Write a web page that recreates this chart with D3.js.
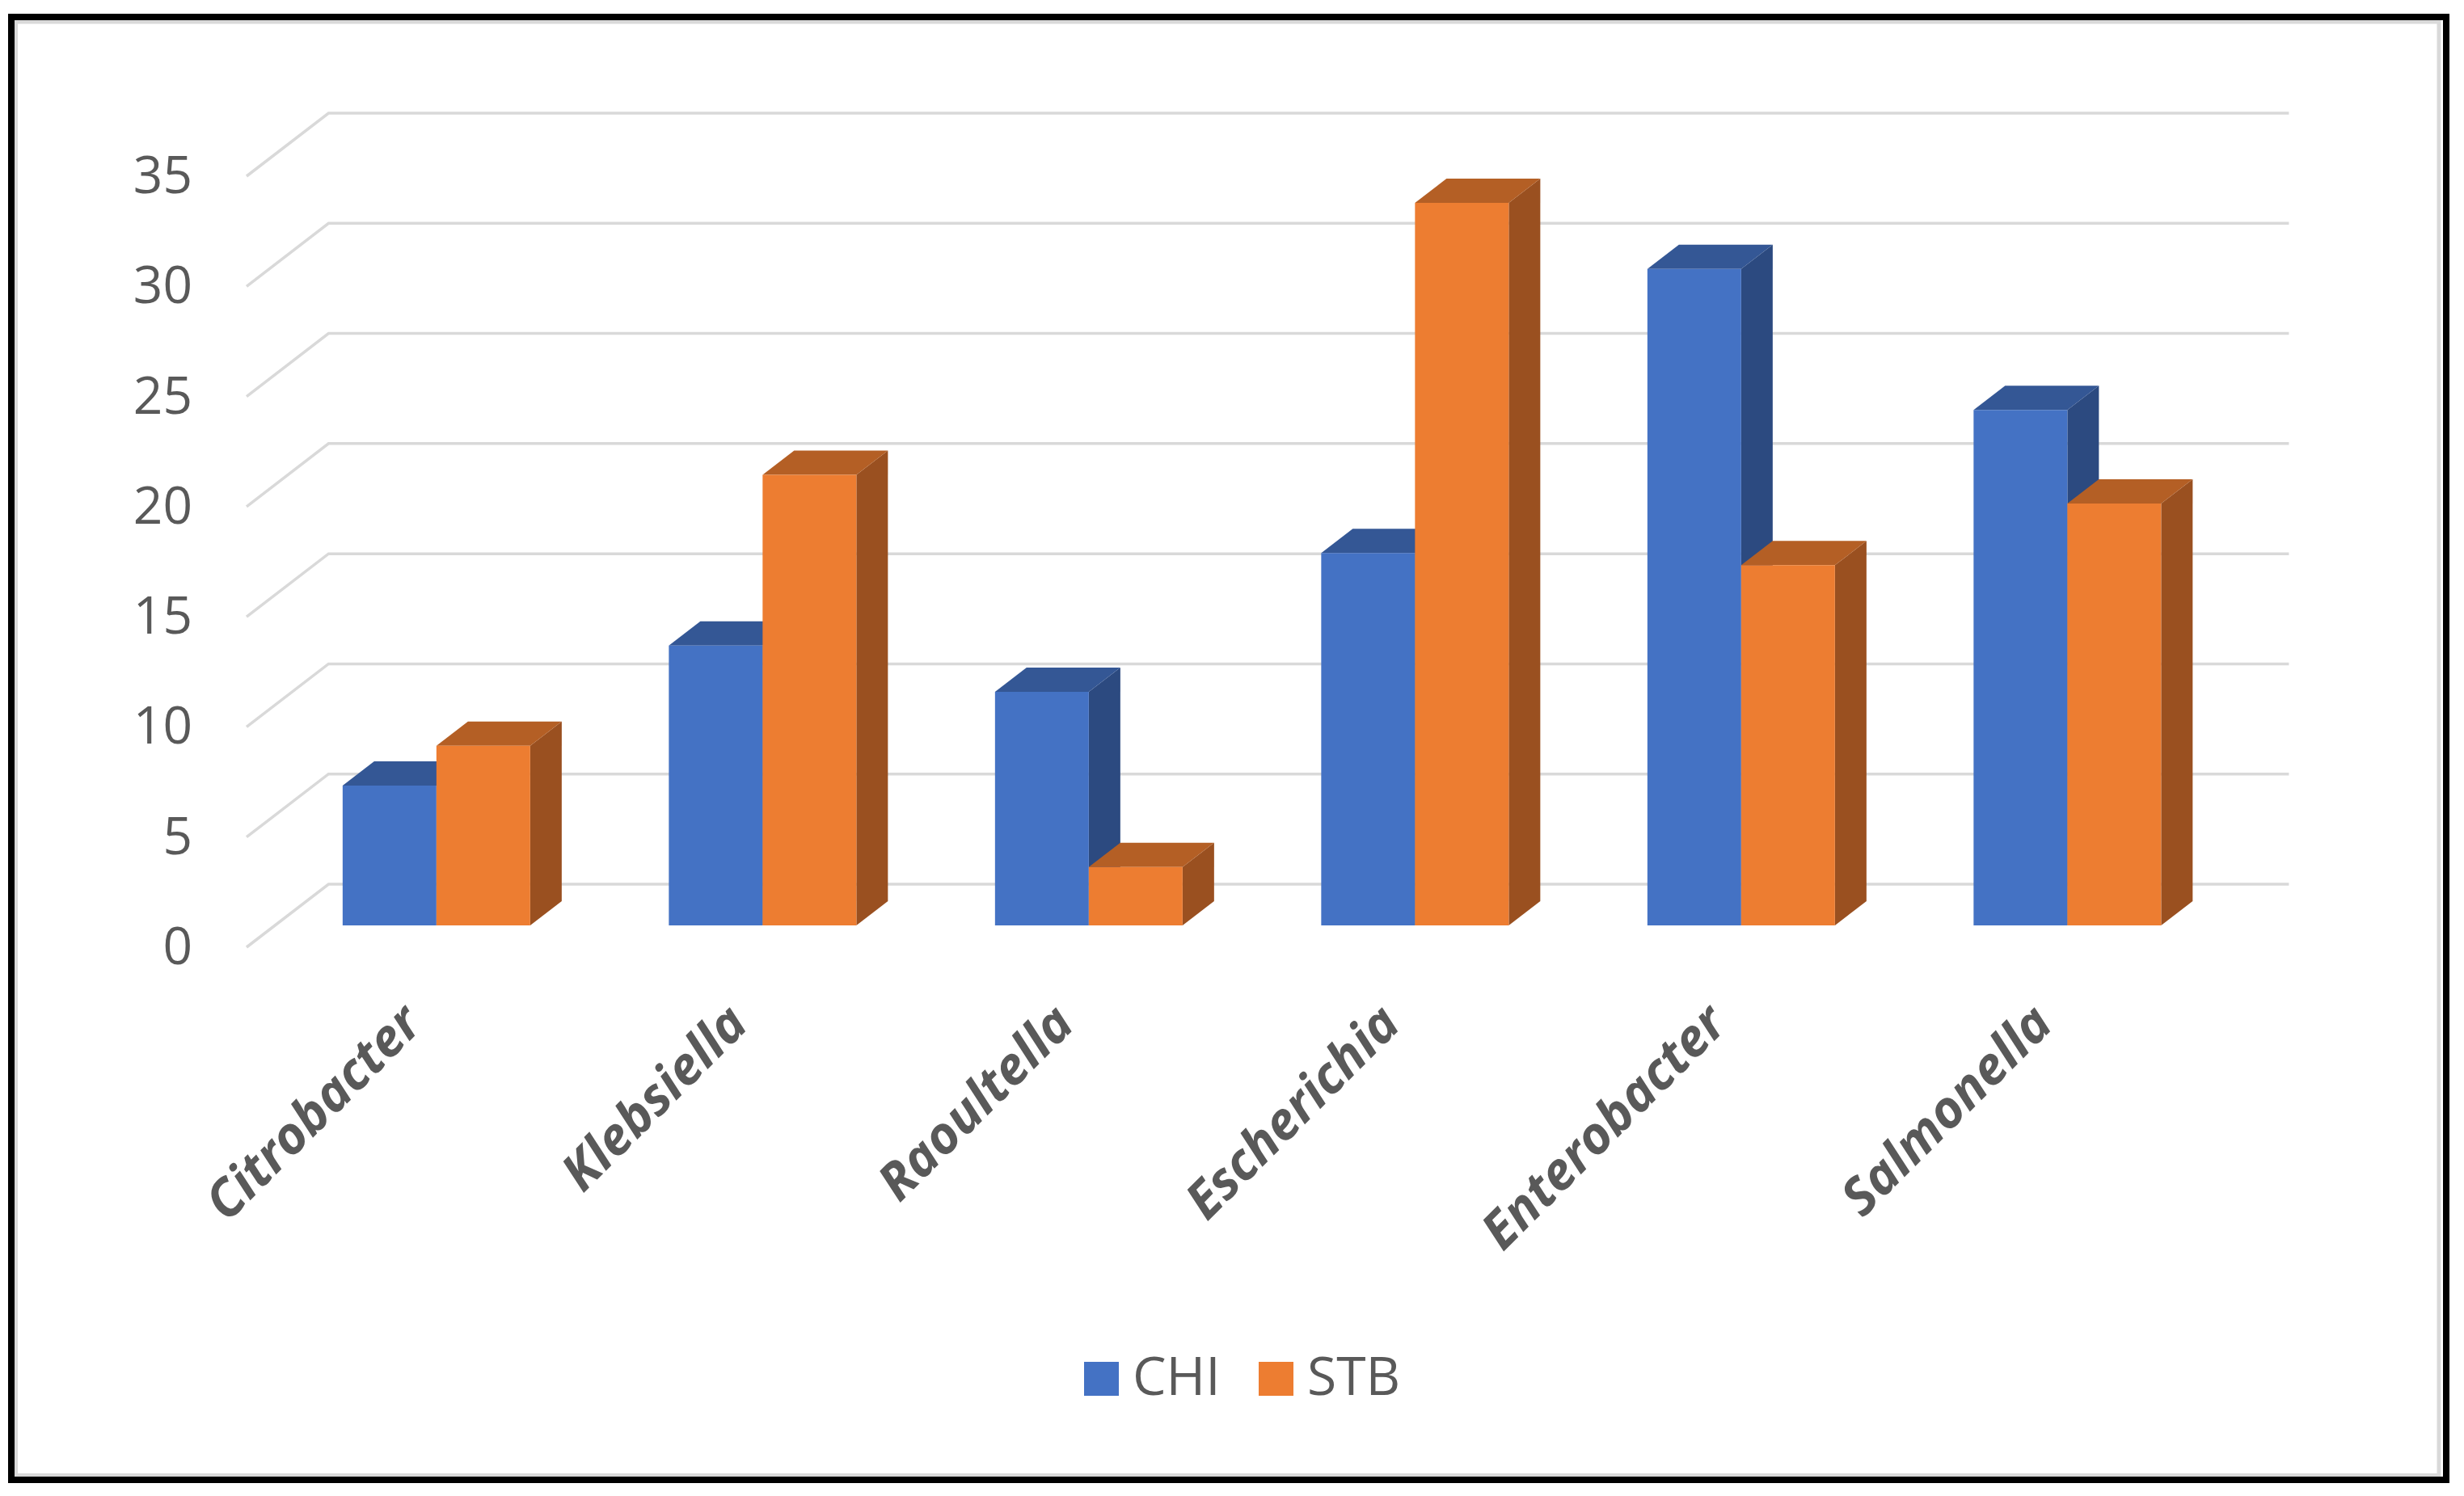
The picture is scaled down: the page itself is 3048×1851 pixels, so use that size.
<!DOCTYPE html>
<html>
<head>
<meta charset="utf-8">
<script src="https://cdn.jsdelivr.net/npm/d3@7"></script>
<style>
  html, body { margin: 0; padding: 0; background: #ffffff; }
  svg { display: block; }
</style>
</head>
<body>
<svg id="chart" width="3048" height="1851"></svg>
<script>
// ---- data ----
const categories = ["Citrobacter", "Klebsiella", "Raoultella", "Escherichia", "Enterobacter", "Salmonella"];
const seriesNames = ["CHI", "STB"];
const chiValues = [6.35, 12.7, 10.6, 16.9, 29.8, 23.4];
const stbValues = [8.15, 20.45, 2.65, 32.8, 16.35, 19.15];
const yTicks = [0, 5, 10, 15, 20, 25, 30, 35];
const seriesColors = ["#4472C4", "#ED7D31"];
const topColors = ["#345795", "#b45f25"];
const sideColors = ["#2c4a80", "#9a5020"];

// ---- geometry ----
const svg = d3.select("#chart");
const W = 3048, H = 1851;
svg.append("rect").attr("width", W).attr("height", H).attr("fill", "#ffffff");

// frame
svg.append("rect").attr("x", 19.5).attr("y", 27).attr("width", 2997.5).attr("height", 1798.5)
  .attr("fill", "none").attr("stroke", "#d9d9d9").attr("stroke-width", 5);
svg.append("rect").attr("x", 14).attr("y", 21).attr("width", 3012).attr("height", 1810)
  .attr("fill", "none").attr("stroke", "#000000").attr("stroke-width", 8);

// oblique projection: depth d shifts right by kx*d and up by d
const kx = 1.3;
const wallDepth = 78;
const barFront = 27, barBack = 57;
const gridLeft = 305, gridRight = 2730;

const x = d3.scaleBand().domain(categories).range([303, 2724]).paddingInner(0).paddingOuter(0);
const y = d3.scaleLinear().domain([0, 35]).range([1172, 218]);
const groupWidth = 232;
const xSub = d3.scaleBand().domain(seriesNames).range([0, groupWidth]);

function proj(xf, v, d) { return [xf + kx * d, y(v) - d]; }

// gridlines (side-wall diagonal + back wall)
const grid = svg.append("g").attr("fill", "none").attr("stroke", "#d9d9d9").attr("stroke-width", 3.5);
grid.selectAll("path").data(yTicks).join("path")
  .attr("d", v => {
    const a = proj(gridLeft, v, 0), b = proj(gridLeft, v, wallDepth), c = proj(gridRight, v, wallDepth);
    return `M${a[0]},${a[1]}L${b[0]},${b[1]}L${c[0]},${c[1]}`;
  });

// y axis labels
const yAxis = d3.axisLeft(y).tickValues(yTicks).tickSize(0).tickPadding(0);
const yg = svg.append("g").attr("transform", "translate(238,0)").call(yAxis);
yg.select(".domain").remove();
yg.selectAll("text").attr("fill", "#595959")
  .style("font-family", "'Open Sans', 'Noto Sans', sans-serif").style("font-size", "64px");

// bars
const rows = categories.map((c, i) => ({ cat: c, vals: [chiValues[i], stbValues[i]] }));
const barsG = svg.append("g");
rows.forEach(r => {
  const gx = x(r.cat) + (x.bandwidth() - groupWidth) / 2;
  seriesNames.forEach((s, si) => {
    const v = r.vals[si];
    const xl = gx + xSub(s), xr = xl + xSub.bandwidth();
    const fbl = proj(xl, 0, barFront), fbr = proj(xr, 0, barFront);
    const ftl = proj(xl, v, barFront), ftr = proj(xr, v, barFront);
    const btl = proj(xl, v, barBack), btr = proj(xr, v, barBack), bbr = proj(xr, 0, barBack);
    const g = barsG.append("g");
    g.append("path").attr("d", `M${fbr}L${ftr}L${btr}L${bbr}Z`).attr("fill", sideColors[si]);
    g.append("path").attr("d", `M${ftl}L${ftr}L${btr}L${btl}Z`).attr("fill", topColors[si]);
    g.append("path").attr("d", `M${fbl}L${ftl}L${ftr}L${fbr}Z`).attr("fill", seriesColors[si]);
  });
});

// category labels
svg.append("g").selectAll("text").data(categories).join("text")
  .attr("transform", c => `translate(${x(c) + x.bandwidth() / 2 + 20},1270) rotate(-45)`)
  .attr("text-anchor", "end")
  .attr("fill", "#595959")
  .style("font-family", "'Open Sans', 'Noto Sans', sans-serif")
  .style("font-size", "64px").style("font-style", "italic").style("font-weight", 700)
  .text(c => c);

// legend
const legend = svg.append("g").selectAll("g").data(seriesNames).join("g")
  .attr("transform", (s, i) => `translate(${[1341, 1557][i]},1685)`);
legend.append("rect").attr("width", 43).attr("height", 42).attr("fill", (s, i) => seriesColors[i]);
legend.append("text").attr("x", 60).attr("y", 41).attr("fill", "#595959")
  .style("font-family", "'Open Sans', 'Noto Sans', sans-serif").style("font-size", "66px")
  .text(s => s);
</script>
</body>
</html>
